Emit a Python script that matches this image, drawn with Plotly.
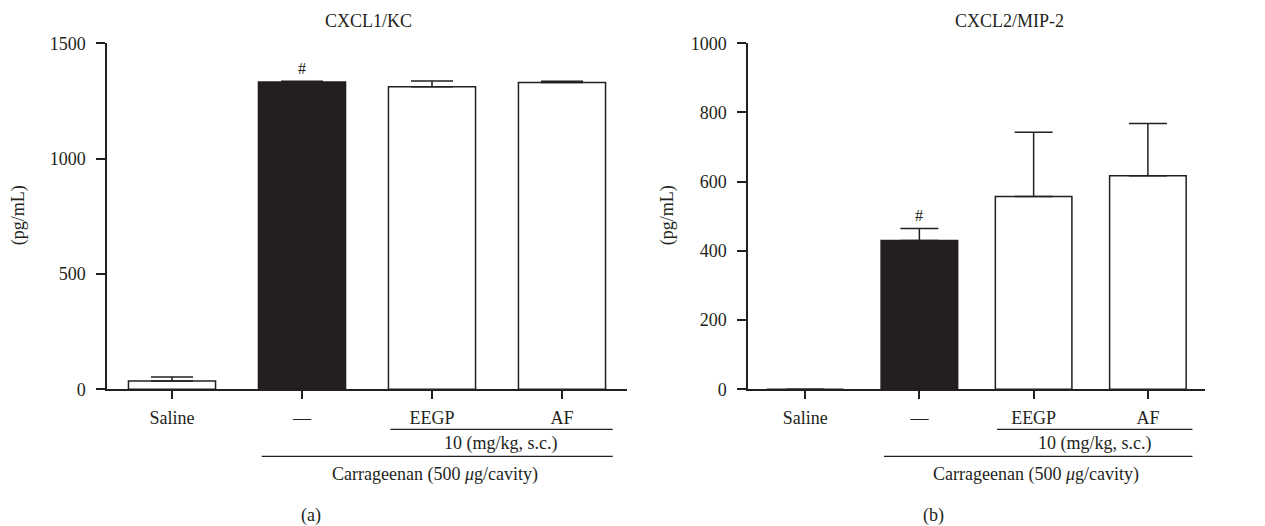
import plotly.graph_objects as go

categories = ["Saline", "—", "EEGP", "AF"]
kc_mean = [36, 1332, 1312, 1330]
kc_err = [17, 3, 25, 5]
mip_mean = [0, 430, 557, 617]
mip_err = [0, 35, 186, 151]
kc_ticks = [0, 500, 1000, 1500]
mip_ticks = [0, 200, 400, 600, 800, 1000]

INK = "#231f20"
FONT = "Liberation Serif"
fills = ["white", INK, "white", "white"]

fig = go.Figure()
for vals, errs, xa, ya, cap in [(kc_mean, kc_err, "x", "y", 21), (mip_mean, mip_err, "x2", "y2", 19)]:
    fig.add_trace(go.Bar(
        x=list(range(len(categories))), y=vals, xaxis=xa, yaxis=ya, width=0.67,
        marker=dict(color=fills, line=dict(color=INK, width=1.5)),
        error_y=dict(type="data", array=errs, arrayminus=[0] * len(errs), symmetric=False,
                     color=INK, thickness=1.5, width=cap),
        showlegend=False, hoverinfo="skip"))

H = 526
# vertical placement helper (compensates the observed render mapping)
def py(p):
    q = (p - 9.7) / 0.962
    return 1 - q / H

ydom = [py(389), py(43)]
axfont = dict(family=FONT, size=18, color=INK)
common_x = dict(range=[-0.5, 3.5], tickmode="array", tickvals=[0, 1, 2, 3], ticktext=categories,
                showline=True, linecolor=INK, linewidth=1.5, ticks="outside", ticklen=8,
                tickcolor=INK, tickwidth=1.5, tickfont=axfont, showgrid=False, zeroline=False,
                ticklabelstandoff=3)
common_y = dict(showline=True, linecolor=INK, linewidth=1.5, ticks="outside", ticklen=9,
                tickcolor=INK, tickwidth=1.5, tickfont=axfont, showgrid=False, zeroline=False,
                domain=ydom, tickmode="array", ticklabelstandoff=7)

fig.update_layout(
    width=1265, height=526, margin=dict(l=0, r=0, t=0, b=0),
    paper_bgcolor="white", plot_bgcolor="white",
    xaxis=dict(domain=[107 / 1265, 627 / 1265], anchor="y", **common_x),
    yaxis=dict(range=[0, 1500], tickvals=kc_ticks, anchor="x", **common_y),
    xaxis2=dict(domain=[748 / 1265, 1205 / 1265], anchor="y2", **common_x),
    yaxis2=dict(range=[0, 1000], tickvals=mip_ticks, anchor="x2", **common_y),
    bargap=0.33,
)

shapes = []
annots = []
for xr, title, tx, lab, labx, hash_y in [("x", "CXCL1/KC", 1.51, "(a)", 1.07, kc_mean[1] + kc_err[1]),
                                        ("x2", "CXCL2/MIP-2", 1.79, "(b)", 1.12, mip_mean[1] + mip_err[1])]:
    yr = "y" if xr == "x" else "y2"
    shapes.append(dict(type="line", xref=xr, yref="paper", x0=1.68, x1=3.39, y0=py(429), y1=py(429),
                       line=dict(color=INK, width=1.3)))
    shapes.append(dict(type="line", xref=xr, yref="paper", x0=0.69, x1=3.39, y0=py(456), y1=py(456),
                       line=dict(color=INK, width=1.3)))
    annots.append(dict(xref=xr, yref="paper", x=2.53, y=py(443), text="10 (mg/kg, s.c.)", showarrow=False,
                       font=axfont, yanchor="middle"))
    annots.append(dict(xref=xr, yref="paper", x=2.02, y=py(474), text="Carrageenan (500 <i>μ</i>g/cavity)",
                       showarrow=False, font=axfont, yanchor="middle"))
    annots.append(dict(xref=xr, yref="paper", x=labx, y=py(515), text=lab, showarrow=False, font=axfont,
                       yanchor="middle"))
    annots.append(dict(xref=xr, yref="paper", x=tx, y=py(21), text=title, showarrow=False, font=axfont,
                       yanchor="middle"))
    annots.append(dict(xref=xr, yref=yr, x=1, y=hash_y, text="#", showarrow=False,
                       font=dict(family=FONT, size=16, color=INK), yanchor="bottom", yshift=2))

for px in [18, 667]:
    annots.append(dict(xref="paper", yref="paper", x=px / 1265, y=py(215), text="(pg/mL)", textangle=-90,
                       showarrow=False, font=axfont, xanchor="center", yanchor="middle"))

fig.update_layout(shapes=shapes, annotations=annots)
fig.write_html("out.html", config={"displayModeBar": False},
               post_script="document.body.style.margin='0';document.body.style.overflow='hidden';")
